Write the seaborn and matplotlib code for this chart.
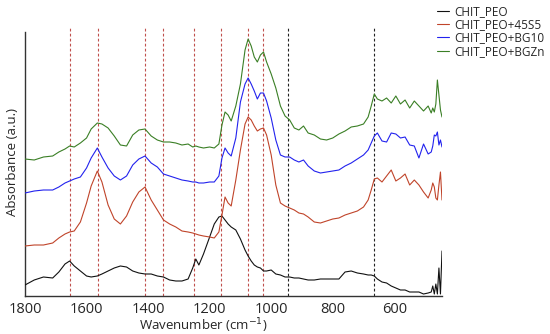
import matplotlib
matplotlib.use("Agg")
import matplotlib.pyplot as plt
import seaborn as sns
import numpy as np
import pandas as pd

# wavenumber grid (cm-1)
wavenumber = [1800, 1770, 1740, 1710, 1690, 1670, 1655, 1640, 1620, 1600,
              1585, 1565, 1550, 1530, 1510, 1490, 1470, 1450, 1430, 1410,
              1390, 1370, 1350, 1330, 1310, 1290, 1270, 1255, 1245, 1235,
              1220, 1200, 1185, 1170, 1160, 1150, 1140, 1130, 1115, 1100,
              1085, 1075, 1065, 1055, 1045, 1035, 1025, 1015, 1000, 985,
              970, 955, 940, 925, 910, 895, 880, 860, 840, 820,
              800, 780, 760, 740, 720, 700, 685, 675, 665, 655,
              640, 625, 610, 595, 580, 565, 550, 535, 520, 505,
              490, 480, 475, 470, 465, 460, 455, 450, 445]

# stacked spectra (a.u., offsets included)
chit_peo = [11, 16, 19, 18, 24, 32, 35, 30, 25, 20,
            19, 20, 22, 25, 28, 30, 29, 25, 23, 22,
            22, 20, 19, 16, 15, 15, 17, 28, 37, 31,
            42, 59, 72, 79, 80, 76, 72, 69, 66, 57,
            46, 40, 35, 31, 29, 28, 25, 25, 26, 22,
            21, 19, 19, 18, 18, 17, 16, 16, 17, 17,
            17, 17, 24, 25, 23, 22, 21, 21, 20, 17,
            14, 13, 10, 8, 6, 6, 4, 4, 4, 2,
            3, 4, 10, 2, 12, 2, 28, 2, 45]

chit_45s5 = [50, 51, 51, 53, 58, 62, 64, 65, 74, 93,
             110, 125, 114, 91, 77, 72, 80, 94, 104, 109,
             96, 86, 76, 72, 69, 65, 64, 63, 62, 61,
             60, 59, 58, 64, 81, 99, 93, 90, 116, 146,
             172, 179, 176, 170, 165, 167, 168, 161, 141, 111,
             93, 90, 88, 86, 83, 82, 79, 74, 73, 75,
             77, 78, 81, 83, 85, 89, 96, 106, 117, 118,
             114, 120, 126, 115, 118, 122, 111, 116, 111, 104,
             98, 106, 113, 109, 98, 96, 111, 124, 96]

chit_bg10 = [103, 105, 106, 106, 109, 113, 115, 117, 119, 128,
             138, 148, 139, 128, 120, 116, 120, 131, 137, 140,
             133, 129, 122, 120, 118, 116, 115, 114, 114, 113,
             113, 114, 114, 120, 138, 148, 143, 140, 158, 194,
             212, 218, 212, 205, 197, 203, 203, 195, 178, 156,
             141, 139, 139, 136, 134, 136, 130, 125, 123, 124,
             125, 126, 130, 133, 137, 141, 146, 153, 160, 163,
             155, 154, 163, 162, 158, 159, 151, 150, 138, 152,
             142, 144, 150, 161, 160, 164, 151, 156, 149]

chit_bgzn = [137, 136, 139, 140, 144, 147, 150, 149, 153, 158,
             167, 173, 172, 168, 160, 151, 150, 161, 166, 167,
             160, 156, 154, 154, 153, 151, 152, 149, 150, 149,
             148, 149, 148, 152, 171, 184, 181, 175, 190, 212,
             246, 257, 250, 239, 234, 241, 244, 234, 222, 208,
             190, 180, 176, 168, 166, 170, 163, 161, 157, 156,
             158, 162, 165, 169, 170, 172, 179, 190, 202, 197,
             195, 198, 193, 200, 192, 196, 188, 195, 190, 185,
             190, 183, 188, 184, 192, 216, 201, 186, 179]

labels = ["CHIT_PEO", "CHIT_PEO+45S5", "CHIT_PEO+BG10", "CHIT_PEO+BGZn"]
colors = ["#111111", "#C0442A", "#2222EE", "#3A7F25"]

red_bands = [1655, 1562, 1410, 1350, 1250, 1163, 1075, 1027]
black_bands = [945, 665]

rows = []
for lab, vals in zip(labels, [chit_peo, chit_45s5, chit_bg10, chit_bgzn]):
    for w, v in zip(wavenumber, vals):
        rows.append({"wn": w, "absorbance": v, "sample": lab})
df = pd.DataFrame(rows)

sns.set_style("white")
plt.rcParams["font.family"] = ["Open Sans", "DejaVu Sans"]

fig = plt.figure(figsize=(5.5, 3.34), dpi=100)
ax = fig.add_axes([25 / 550, 1 - 296 / 334, 417 / 550, 268 / 334])

for b in red_bands:
    ax.axvline(b, color="#C0504D", lw=0.8, ls=(0, (2.5, 2)), zorder=1)
for b in black_bands:
    ax.axvline(b, color="#222222", lw=0.8, ls=(0, (2.5, 2)), zorder=1)

sns.lineplot(data=df, x="wn", y="absorbance", hue="sample", hue_order=labels,
             palette=colors, estimator=None, sort=False, lw=0.8, ax=ax, zorder=3)

ax.set_xlim(1800, 445)
ax.set_ylim(0, 268)
ax.set_xticks([1800, 1600, 1400, 1200, 1000, 800, 600])
ax.set_yticks([])
ax.tick_params(axis="x", length=0, labelsize=10.5, pad=4)
for s in ["top", "right"]:
    ax.spines[s].set_visible(False)
ax.spines["left"].set_bounds(0, 264)
ax.spines["left"].set_color("#333333")
ax.spines["bottom"].set_color("#333333")
ax.spines["left"].set_linewidth(1.0)
ax.spines["bottom"].set_linewidth(1.0)

ax.set_xlabel("Wavenumber (cm$^{-1}$)", fontsize=9.5, labelpad=1)
ax.xaxis.set_label_coords(0.427, -0.075)
ax.set_ylabel("Absorbance (a.u.)", fontsize=9.5, labelpad=4)

ax.legend(loc="upper left", bbox_to_anchor=(437 / 550, 1 - 5 / 334),
          bbox_transform=fig.transFigure, frameon=False, fontsize=8.5,
          handlelength=1.0, handletextpad=0.5, labelspacing=0.02,
          borderpad=0, borderaxespad=0)

fig.savefig("out.png", dpi=100)
